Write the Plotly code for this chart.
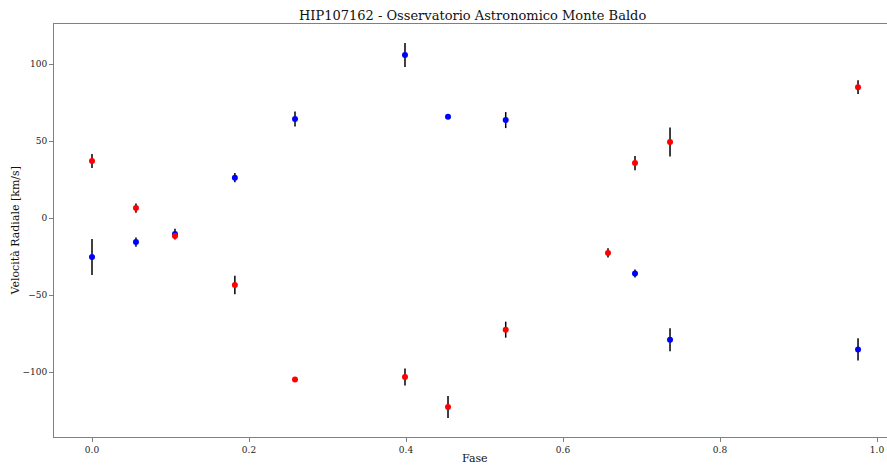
import plotly.graph_objects as go

# Red series (primary)
fase_red = [0.0, 0.056, 0.1057, 0.182, 0.2586, 0.3987, 0.4535, 0.527, 0.6573, 0.6917, 0.7363, 0.9758]
vel_red = [37.0, 6.5, -11.7, -43.5, -104.8, -103.2, -122.7, -72.5, -22.7, 35.7, 49.4, 85.0]
err_red = [4.5, 3.0, 1.0, 6.0, 0.5, 5.5, 7.2, 5.2, 3.0, 4.6, 9.4, 4.5]

# Blue series (secondary)
fase_blue = [0.0, 0.056, 0.1057, 0.182, 0.2586, 0.3987, 0.4535, 0.527, 0.6917, 0.7363, 0.9758]
vel_blue = [-25.3, -15.6, -10.4, 26.2, 64.3, 105.8, 65.8, 63.6, -36.1, -79.0, -85.3]
err_blue = [11.7, 3.0, 3.5, 3.0, 4.9, 7.8, 0.5, 5.2, 2.6, 7.5, 7.2]

title = "HIP107162 - Osservatorio Astronomico Monte Baldo"
xlabel = "Fase"
ylabel = "Velocità Radiale [km/s]"
xticks = [0.0, 0.2, 0.4, 0.6, 0.8, 1.0]
yticks = [-100, -50, 0, 50, 100]

FONT = "DejaVu Serif"

fig = go.Figure()
fig.add_trace(go.Scatter(
    x=fase_blue, y=vel_blue, mode="markers",
    marker=dict(color="blue", size=6),
    error_y=dict(type="data", array=err_blue, color="black", thickness=1.5, width=0),
    showlegend=False,
))
fig.add_trace(go.Scatter(
    x=fase_red, y=vel_red, mode="markers",
    marker=dict(color="red", size=6),
    error_y=dict(type="data", array=err_red, color="black", thickness=1.5, width=0),
    showlegend=False,
))

axis_common = dict(
    showgrid=False, zeroline=False, showline=True, linecolor="#808080", linewidth=1,
    ticks="outside", ticklen=4, tickcolor="#808080", tickwidth=1,
    tickfont=dict(family=FONT, size=9, color="#222222"),
)

fig.update_layout(
    width=887, height=466,
    margin=dict(l=54, r=0, t=24, b=29),
    paper_bgcolor="white", plot_bgcolor="white",
    font=dict(family=FONT),
    title=dict(text=title, x=0.5025, xanchor="center", xref="paper",
               y=1, yref="paper", yanchor="bottom", pad=dict(b=4),
               font=dict(family=FONT, size=13, color="#111111")),
    xaxis=dict(range=[-0.0484, 1.0127], tickvals=xticks, tickformat=".1f",
               mirror=True, **axis_common),
    yaxis=dict(range=[-142.2, 126.0], tickvals=yticks, **axis_common),
    annotations=[
        dict(text=xlabel, x=0.5054, xref="paper", y=-0.051, yref="paper",
             xanchor="center", yanchor="middle", showarrow=False,
             font=dict(family=FONT, size=11, color="#111111")),
        dict(text=ylabel, x=-0.0468, xref="paper", y=0.5, yref="paper",
             xanchor="center", yanchor="middle", textangle=-90, showarrow=False,
             font=dict(family=FONT, size=11, color="#111111")),
    ],
)

fig.write_html("out.html")
